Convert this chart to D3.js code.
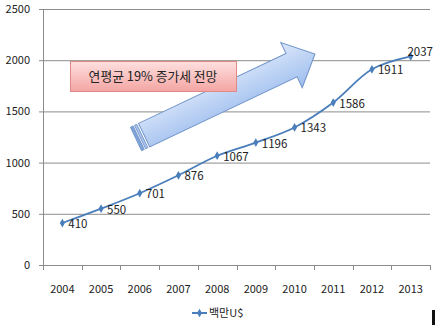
<!DOCTYPE html>
<html><head><meta charset="utf-8">
<script src="https://cdn.jsdelivr.net/npm/d3@7"></script>
<style>body{margin:0;background:#fff}svg{display:block}text{font-family:"Noto Sans CJK KR","Noto Sans",sans-serif}</style>
</head><body><svg id="c" width="435" height="325"></svg>
<script>
const years = ["2004","2005","2006","2007","2008","2009","2010","2011","2012","2013"];
const values = [410,550,701,876,1067,1196,1343,1586,1911,2037];
const yTicks = [0,500,1000,1500,2000,2500];
const seriesName = "백만U$";
const note = "연평균 19% 증가세 전망";

const svg = d3.select("#c");
const m = {l:43, r:430, t:9, b:265};
const x = d3.scaleBand().domain(years).range([m.l, m.r]);
const y = d3.scaleLinear().domain([0,2500]).range([m.b, m.t]);
const col = "#4a7ebb";

// grid
svg.append("g").selectAll("line").data(yTicks.filter(d=>d>0)).join("line")
  .attr("x1", m.l).attr("x2", m.r).attr("y1", d=>y(d)+0.5).attr("y2", d=>y(d)+0.5)
  .attr("stroke", "#8c8c8c").attr("stroke-width", 1);
// y axis
svg.append("line").attr("x1", m.l+0.5).attr("x2", m.l+0.5).attr("y1", m.t).attr("y2", m.b).attr("stroke","#8c8c8c");
svg.append("g").selectAll("line").data(yTicks).join("line")
  .attr("x1", m.l-4).attr("x2", m.l).attr("y1", d=>y(d)+0.5).attr("y2", d=>y(d)+0.5).attr("stroke","#8c8c8c");
svg.append("g").selectAll("text").data(yTicks).join("text")
  .attr("x", 30).attr("y", d=>y(d)+4).attr("text-anchor","end")
  .attr("font-size", 11).attr("fill","#222").text(d=>d);
// x axis
svg.append("line").attr("x1", m.l).attr("x2", m.r).attr("y1", m.b+0.5).attr("y2", m.b+0.5).attr("stroke","#8c8c8c");
const bounds = years.map(d=>x(d)).concat([m.r]);
svg.append("g").selectAll("line").data(bounds).join("line")
  .attr("x1", d=>Math.round(d)+0.5).attr("x2", d=>Math.round(d)+0.5).attr("y1", m.b).attr("y2", m.b+5).attr("stroke","#8c8c8c");
svg.append("g").selectAll("text").data(years).join("text")
  .attr("x", d=>x(d)+x.bandwidth()/2).attr("y", 293).attr("text-anchor","middle")
  .attr("font-size", 11).attr("fill","#222").text(d=>d);

// arrow (decorative block arrow)
const defs = svg.append("defs");
const ag = defs.append("linearGradient").attr("id","ag").attr("x1",0).attr("y1",0).attr("x2",0).attr("y2",1);
ag.append("stop").attr("offset","0%").attr("stop-color","#dbe7fa");
ag.append("stop").attr("offset","100%").attr("stop-color","#9dbdee");
const pg = defs.append("linearGradient").attr("id","pg").attr("x1",0).attr("y1",0).attr("x2",0).attr("y2",1);
pg.append("stop").attr("offset","0%").attr("stop-color","#fde0df");
pg.append("stop").attr("offset","100%").attr("stop-color","#f4a5a3");

const tail = [136,139], tip = [315,54];
const ang = Math.atan2(tip[1]-tail[1], tip[0]-tail[0])*180/Math.PI;
const L = Math.hypot(tip[0]-tail[0], tip[1]-tail[1]);
const sw = 13, hw = 25, hl = 26;
const ar = svg.append("g").attr("transform",`translate(${tail[0]},${tail[1]}) rotate(${ang})`);
ar.append("path").attr("d",`M9,${-sw} L${L-hl},${-sw} L${L-hl},${-hw} L${L},0 L${L-hl},${hw} L${L-hl},${sw} L9,${sw} Z`)
  .attr("fill","url(#ag)").attr("stroke","#6f93c8").attr("stroke-width",1);
ar.append("rect").attr("x",0).attr("y",-sw).attr("width",3).attr("height",2*sw).attr("fill","#7fa3d8").attr("stroke","#6f93c8").attr("stroke-width",0.8);
ar.append("rect").attr("x",4.5).attr("y",-sw).attr("width",2.5).attr("height",2*sw).attr("fill","#a9c3ec").attr("stroke","#6f93c8").attr("stroke-width",0.8);

// note box
svg.append("rect").attr("x",70.5).attr("y",61.5).attr("width",166).attr("height",30)
  .attr("fill","url(#pg)").attr("stroke","#e08a88").attr("stroke-width",1);
svg.append("text").attr("x",153).attr("y",81).attr("text-anchor","middle").attr("font-size",12.8).attr("fill","#222").text(note);

// line
const cx = d=>x(d)+x.bandwidth()/2;
const data = years.map((d,i)=>({yr:d, v:values[i]}));
svg.append("path").datum(data)
  .attr("d", d3.line().x(d=>cx(d.yr)).y(d=>y(d.v)).curve(d3.curveCatmullRom.alpha(0.5)))
  .attr("fill","none").attr("stroke",col).attr("stroke-width",1.8);
const sym = d3.symbol().type(d3.symbolDiamond).size(22);
svg.append("g").selectAll("path").data(data).join("path")
  .attr("d", sym).attr("transform", d=>`translate(${cx(d.yr)},${y(d.v)})`).attr("fill",col);
svg.append("g").selectAll("text").data(data).join("text")
  .attr("x", d=>cx(d.yr)+6).attr("y", d=>y(d.v)+5)
  .attr("font-size", 11.5).attr("fill","#222").text(d=>d.v)
  .each(function(){
    const w = this.getComputedTextLength();
    const xx = +this.getAttribute("x");
    if (xx + w > 433) { this.setAttribute("x", 433 - w); this.setAttribute("y", +this.getAttribute("y") - 5); }
  });

// legend
svg.append("line").attr("x1",192).attr("x2",207).attr("y1",313).attr("y2",313).attr("stroke",col).attr("stroke-width",2);
svg.append("path").attr("d",sym).attr("transform","translate(199.5,313)").attr("fill",col);
svg.append("text").attr("x",209).attr("y",317).attr("font-size",11).attr("fill","#222").text(seriesName);
// corner mark
svg.append("rect").attr("x",432).attr("y",310).attr("width",3).attr("height",15).attr("fill","#111");
</script></body></html>
